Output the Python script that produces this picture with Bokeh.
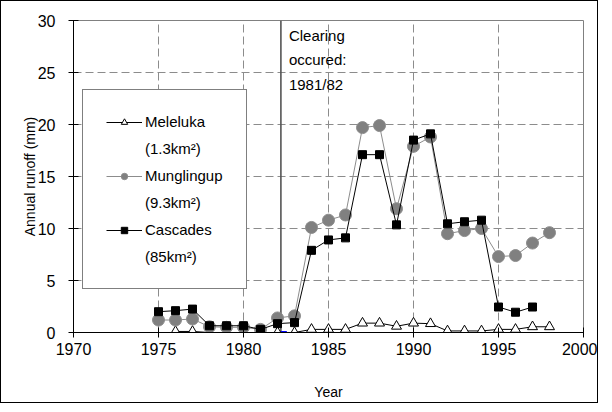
from bokeh.plotting import figure
from bokeh.models import Legend, LegendItem, Range1d, FixedTicker, Label, InlineStyleSheet
from bokeh.embed import file_html
from bokeh.resources import INLINE

mel_years = list(range(1976, 1999))
mel_vals = [0.1, 0.1, 0.0, 0.0, 0.0, 0.0, 0.0, 0.0, 0.3, 0.3, 0.3, 0.9, 0.9, 0.6, 0.9, 0.85,
            0.15, 0.15, 0.15, 0.3, 0.3, 0.55, 0.55]
mun_years = list(range(1975, 1999))
mun_vals = [1.2, 1.2, 1.3, 0.55, 0.5, 0.5, 0.3, 1.4, 1.6, 10.1, 10.8, 11.3, 19.7, 19.9, 11.9,
            17.9, 18.8, 9.5, 9.8, 10.0, 7.3, 7.4, 8.6, 9.6]
cas_years = list(range(1975, 1998))
cas_vals = [2.0, 2.1, 2.25, 0.65, 0.65, 0.65, 0.3, 0.85, 0.95, 7.9, 8.9, 9.1, 17.1, 17.1, 10.35,
            18.5, 19.1, 10.45, 10.65, 10.8, 2.45, 1.95, 2.45]
clearing_year = 1982.2
x_ticks = [1970, 1975, 1980, 1985, 1990, 1995, 2000]
y_ticks = [0, 5, 10, 15, 20, 25, 30]
names = ["Meleluka", "Munglingup", "Cascades"]
areas = ["(1.3km²)", "(9.3km²)", "(85km²)"]

FONT = "Liberation Sans"

p = figure(width=596, height=396, output_backend="svg", toolbar_location=None,
           x_range=Range1d(1970, 2000), y_range=Range1d(0, 30),
           min_border_left=72, min_border_right=14, min_border_top=19, min_border_bottom=65)
p.frame_width = 510
p.frame_height = 312
p.border_fill_color = None
p.background_fill_color = "white"
p.stylesheets = [InlineStyleSheet(css=":host { border: 1px solid #000; box-sizing: border-box; background: white; }")]

p.outline_line_color = "#808080"
p.outline_line_width = 1

for ax in (p.xaxis[0], p.yaxis[0]):
    ax.axis_line_color = "black"
    ax.major_tick_line_color = "black"
    ax.major_tick_in = 5
    ax.major_tick_out = 5
    ax.minor_tick_line_color = None
    ax.major_label_text_font = FONT
    ax.major_label_text_font_size = "16px"
    ax.major_label_text_color = "black"
    ax.axis_label_text_font = FONT
    ax.axis_label_text_font_size = "14px"
    ax.axis_label_text_font_style = "normal"
    ax.axis_label_text_color = "black"

p.xaxis.ticker = FixedTicker(ticks=x_ticks)
p.yaxis.ticker = FixedTicker(ticks=y_ticks)
p.xaxis.axis_label = "Year"
p.yaxis.axis_label = "Annual runoff (mm)"
p.xaxis.major_label_standoff = 5
p.yaxis.major_label_standoff = 13
p.xaxis.axis_label_standoff = 26
p.yaxis.axis_label_standoff = -3

p.xgrid.grid_line_color = "#8c8c8c"
p.xgrid.grid_line_dash = "8 4"
p.ygrid.grid_line_color = "#8c8c8c"
p.ygrid.grid_line_dash = "8 4"

# clearing line
p.segment(x0=[clearing_year], y0=[0], x1=[clearing_year], y1=[30], line_color="#555555", line_width=1.6)
p.segment(x0=[clearing_year], y0=[0], x1=[clearing_year + 0.35], y1=[0], line_color="blue", line_width=3)

ml = p.line(mel_years, mel_vals, line_color="black", line_width=1)
mm = p.scatter(mel_years, mel_vals, marker="triangle", size=10, fill_color="white", line_color="black", line_width=1)
gl = p.line(mun_years, mun_vals, line_color="#8c8c8c", line_width=1)
gm = p.scatter(mun_years, mun_vals, marker="circle", size=12, fill_color="#808080", line_color="#8c8c8c")
cl = p.line(cas_years, cas_vals, line_color="black", line_width=1)
cm = p.scatter(cas_years, cas_vals, marker="square", size=8, fill_color="black", line_color="black")

p.add_layout(Label(x=clearing_year, y=30, x_offset=8, y_offset=-6,
                   text="Clearing\noccured:\n1981/82", text_font=FONT, text_font_size="15px",
                   text_color="black", text_baseline="top", text_line_height=1.45))

items = []
for name, area, rs in zip(names, areas, [[ml, mm], [gl, gm], [cl, cm]]):
    items.append(LegendItem(label=name, renderers=rs))
    items.append(LegendItem(label=area, renderers=[]))

legend = Legend(items=items, location=(9, 43))
legend.border_line_color = "black"
legend.border_line_width = 1
legend.background_fill_alpha = 1
legend.label_text_font = FONT
legend.label_text_font_size = "15px"
legend.label_text_color = "black"
legend.glyph_width = 36
legend.glyph_height = 16
legend.label_height = 16
legend.label_standoff = 3
legend.spacing = 10
legend.padding = 23
legend.margin = 0
p.add_layout(legend)

open("out.html", "w").write(file_html(p, INLINE))
